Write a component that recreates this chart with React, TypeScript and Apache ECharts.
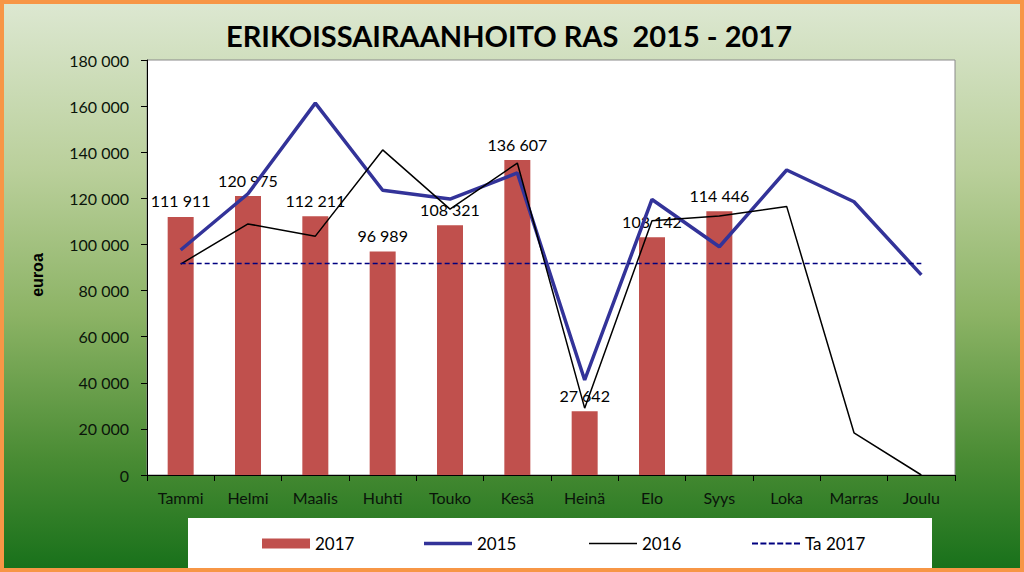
import React, { useEffect, useRef } from "react";
import * as echarts from "echarts";

const months = ["Tammi", "Helmi", "Maalis", "Huhti", "Touko", "Kesä", "Heinä", "Elo", "Syys", "Loka", "Marras", "Joulu"];
const v2017 = [111911, 120975, 112211, 96989, 108321, 136607, 27642, 103142, 114446, null, null, null];
const v2015 = [97600, 122000, 161300, 123500, 119700, 131000, 41200, 119500, 99000, 132300, 118500, 86800];
const v2016 = [91500, 108900, 103600, 141000, 115300, 135300, 29000, 110300, 112300, 116500, 18300, 0];
const ta2017 = [91700, 91700, 91700, 91700, 91700, 91700, 91700, 91700, 91700, 91700, 91700, 91700];
const titleText = "ERIKOISSAIRAANHOITO RAS  2015 - 2017";
const axisName = "euroa";

const fmt = (v: number) => String(v).replace(/\B(?=(\d{3})+(?!\d))/g, " ");
const FONT = "Lato";

let dashPath = "path://";
for (let i = 0; i < 6; i++) {
  const x0 = i * 8.4;
  dashPath += `M${x0},0H${x0 + 6}V2H${x0}Z `;
}

export default function App() {
  const ref = useRef<HTMLDivElement>(null);
  useEffect(() => {
    const chart = echarts.init(ref.current!, null, { renderer: "svg" });
    const legendBase = {
      top: 535,
      padding: 0,
      itemWidth: 48,
      itemGap: 5,
      itemStyle: { borderWidth: 0 },
      textStyle: { fontFamily: FONT, fontSize: 17, color: "#000" },
      selectedMode: false,
    };
    chart.setOption({
      animation: false,
      backgroundColor: new echarts.graphic.LinearGradient(0, 0, 0, 1, [
        { offset: 0, color: "#dde8d2" },
        { offset: 0.3, color: "#b9cf9a" },
        { offset: 0.55, color: "#8cb365" },
        { offset: 0.8, color: "#4a8c34" },
        { offset: 1, color: "#17701a" },
      ]),
      title: {
        text: titleText,
        left: 221,
        top: 16,
        textStyle: { fontFamily: FONT, fontSize: 29, fontWeight: "bold", color: "#000" },
      },
      graphic: [
        { type: "rect", z: -1, shape: { x: 188, y: 518, width: 744, height: 52 }, style: { fill: "#fff" } },
        {
          type: "text",
          x: 37,
          y: 275,
          rotation: Math.PI / 2,
          style: {
            text: axisName,
            fontFamily: "Liberation Sans",
            fontWeight: "bold",
            fontSize: 16,
            fill: "#000",
            align: "center",
            verticalAlign: "middle",
          },
        },
        { type: "rect", z: 100, shape: { x: 2, y: 2, width: 1020, height: 568 }, style: { fill: "none", stroke: "#f79646", lineWidth: 4 } },
      ],
      legend: [
        { ...legendBase, left: 262, itemHeight: 10, data: [{ name: "2017", icon: "rect" }] },
        { ...legendBase, left: 424, itemHeight: 3.5, data: [{ name: "2015", icon: "rect" }] },
        { ...legendBase, left: 589, itemHeight: 1.5, data: [{ name: "2016", icon: "rect" }] },
        { ...legendBase, left: 752, itemHeight: 2, data: [{ name: "Ta 2017", icon: dashPath }] },
      ],
      grid: {
        left: 147,
        right: 69,
        top: 60,
        bottom: 97,
        show: true,
        backgroundColor: "#fff",
        borderColor: "#8a8a8a",
        borderWidth: 1,
      },
      xAxis: {
        type: "category",
        data: months,
        boundaryGap: true,
        axisLine: { lineStyle: { color: "#000", width: 1 } },
        axisTick: { show: true, interval: 0, length: 6, lineStyle: { color: "#000" } },
        axisLabel: { fontFamily: FONT, fontSize: 16, color: "#0a140a", margin: 14, interval: 0 },
      },
      yAxis: {
        type: "value",
        min: 0,
        max: 180000,
        interval: 20000,
        splitLine: { show: false },
        axisLine: { show: true, lineStyle: { color: "#000", width: 1 } },
        axisTick: { show: true, length: 6, lineStyle: { color: "#000" } },
        axisLabel: { fontFamily: FONT, fontSize: 16, color: "#0a140a", margin: 18, formatter: (v: number) => fmt(v) },
      },
      series: [
        {
          name: "2017",
          type: "bar",
          data: v2017,
          barWidth: 26,
          itemStyle: { color: "#c0504d" },
          label: {
            show: true,
            position: "top",
            distance: 8,
            fontFamily: FONT,
            fontSize: 16,
            color: "#000",
            formatter: (p: any) => fmt(p.value),
          },
        },
        {
          name: "2015",
          type: "line",
          data: v2015,
          symbol: "none",
          z: 3,
          lineStyle: { color: "#333399", width: 3.5 },
          itemStyle: { color: "#333399" },
        },
        {
          name: "2016",
          type: "line",
          data: v2016,
          symbol: "none",
          z: 4,
          lineStyle: { color: "#000", width: 1.5 },
          itemStyle: { color: "#000" },
        },
        {
          name: "Ta 2017",
          type: "line",
          data: ta2017,
          symbol: "none",
          z: 4,
          lineStyle: { color: "#000080", width: 1.5, type: [5, 3] },
          itemStyle: { color: "#000080" },
        },
      ],
    });
    return () => chart.dispose();
  }, []);
  return (
    <div
      ref={ref}
      style={{ position: "absolute", left: 0, top: 0, width: 1024, height: 572 }}
    />
  );
}
